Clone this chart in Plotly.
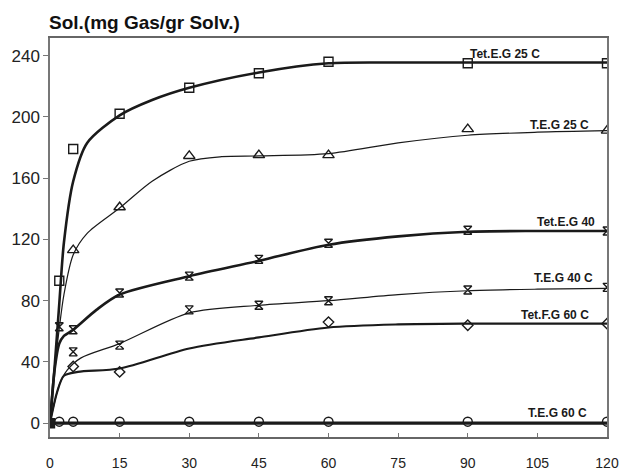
import plotly.graph_objects as go

# ---- data ----
# marker points
tet25_x = [0, 2, 5, 15, 30, 45, 60, 90, 120]
tet25_y = [0, 93, 179, 202, 219, 228.5, 236, 235, 235]
teg25_x = [5, 15, 30, 45, 60, 90, 120]
teg25_y = [113, 141, 174.5, 175, 175, 192, 191]
tet40_x = [2, 5, 15, 30, 45, 60, 90, 120]
tet40_y = [63, 61, 85, 96, 107, 117.5, 126, 125.5]
teg40_x = [5, 15, 30, 45, 60, 90, 120]
teg40_y = [46.6, 51, 74, 77, 80, 87, 88.7]
tet60_x = [5, 15, 60, 90, 120]
tet60_y = [37, 33.5, 66, 64, 65]
teg60_x = [2, 5, 15, 30, 45, 60, 90, 120]
teg60_y = [1, 1, 1, 1, 1, 1, 1, 1]

# fitted curves
tet25_cx = [0, 1, 2, 3, 5, 8, 15, 22, 30, 45, 60, 75, 90, 105, 120]
tet25_cy = [0, 37, 78, 118, 158, 183, 201, 211, 219, 229, 235, 235.5, 235.5, 235.5, 235.5]
teg25_cx = [0, 1, 2, 3, 5, 8, 15, 22, 30, 37, 45, 60, 75, 90, 105, 120]
teg25_cy = [0, 35, 62, 84, 110, 124, 140.5, 158, 171, 174, 174.5, 176, 183, 188, 190, 191]
tet40_cx = [0, 1, 2, 3, 5, 10, 15, 30, 45, 60, 75, 90, 105, 120]
tet40_cy = [0, 35, 52, 57, 61, 74, 84, 96, 106, 116.5, 122, 125, 125.5, 125.5]
teg40_cx = [0, 2, 3.7, 6.6, 15, 30, 45, 60, 75, 90, 105, 120]
teg40_cy = [0, 25, 34.6, 42.5, 52, 72, 77, 80, 84, 86.5, 87.5, 88]
tet60_cx = [0, 1.5, 3, 6, 15, 30, 45, 60, 75, 90, 120]
tet60_cy = [0, 20, 31, 33.5, 35.7, 48.8, 56, 62.5, 64.5, 65, 65]
teg60_cx = [0, 120]
teg60_cy = [0, 0]

x_ticks = [0, 15, 30, 45, 60, 75, 90, 105, 120]
y_ticks = [0, 40, 80, 120, 160, 200, 240]

labels = ["Tet.E.G 25 C", "T.E.G 25 C", "Tet.E.G 40", "T.E.G 40 C", "Tet.F.G 60 C", "T.E.G 60 C"]
label_x = [98, 109.8, 111.2, 110.7, 108.8, 109.4]
label_y = [241, 194.8, 131.6, 95, 70.6, 6.5]

INK = "#1a1a1a"
fig = go.Figure()

def curve(x, y, w):
    fig.add_trace(go.Scatter(x=x, y=y, mode="lines", line=dict(color=INK, width=w, shape="spline", smoothing=0.8),
                             hoverinfo="skip", showlegend=False))

def marks(x, y, sym, size=9):
    fig.add_trace(go.Scatter(x=x, y=y, mode="markers",
                             marker=dict(symbol=sym, size=size, color=INK,
                                         line=dict(color=INK, width=1.4)),
                             showlegend=False))

curve(tet25_cx, tet25_cy, 2.6)
curve(teg25_cx, teg25_cy, 1.2)
curve(tet40_cx, tet40_cy, 2.6)
curve(teg40_cx, teg40_cy, 1.2)
curve(tet60_cx, tet60_cy, 2.2)
curve(teg60_cx, teg60_cy, 3.2)

marks(tet25_x, tet25_y, "square-open", 9)
marks(teg25_x, teg25_y, "triangle-up-open", 10)
marks(tet40_x, tet40_y, "hourglass-open", 8)
marks(teg40_x, teg40_y, "hourglass-open", 8)
marks(tet60_x, tet60_y, "diamond-open", 8)
marks(teg60_x, teg60_y, "circle-open", 9)

# origin cluster
fig.add_trace(go.Scatter(x=[0], y=[0], mode="markers",
                         marker=dict(symbol="square", size=9, color=INK), showlegend=False))

for t, lx, ly in zip(labels, label_x, label_y):
    fig.add_annotation(x=lx, y=ly, text="<b>" + t + "</b>", showarrow=False, xanchor="center", yanchor="middle",
                       font=dict(family="Liberation Sans, Arial", size=12, color=INK))

fig.add_annotation(xref="paper", yref="paper", x=0, y=1.0, xshift=-3, yshift=16, xanchor="left", yanchor="middle",
                   text="<b>Sol.(mg Gas/gr Solv.)</b>", showarrow=False,
                   font=dict(family="Liberation Sans, Arial", size=19, color="#111"))

fig.update_xaxes(range=[0, 120], tickvals=x_ticks, ticks="inside", ticklen=4, tickcolor="#777",
                 showgrid=False, zeroline=False, showline=True, linecolor="#666", linewidth=1.5, mirror=True,
                 ticklabelstandoff=12, automargin=False,
                 tickfont=dict(family="Liberation Sans Narrow, Liberation Sans, Arial", size=14, color="#222"))
fig.update_yaxes(range=[-9, 251.5], tickvals=y_ticks, ticks="outside", ticklen=5, tickcolor="#777",
                 showgrid=False, zeroline=False, showline=True, linecolor="#777", linewidth=1.5, mirror=True,
                 automargin=False,
                 tickfont=dict(family="Liberation Sans, Arial", size=17, color="#222"))

fig.update_layout(width=619, height=472, margin=dict(l=50, r=12, t=38, b=35, autoexpand=False),
                  plot_bgcolor="white", paper_bgcolor="white")

# remove the default page margin so the figure fills the window exactly
fig.write_html("out.html", config={"displayModeBar": False},
               post_script="document.body.style.margin='0';document.body.style.overflow='hidden';")
